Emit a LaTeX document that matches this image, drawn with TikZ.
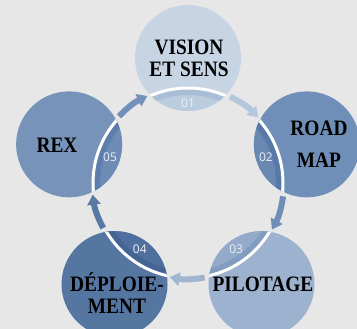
\documentclass[tikz,border=0pt]{standalone}
\usepackage{fontspec}
\setmainfont{Liberation Serif}
\newfontfamily\titlefont[FakeStretch=0.88]{Liberation Serif}
\newfontfamily\numfont{Open Sans}
\usepackage{tikz}
\usetikzlibrary{arrows.meta,positioning,calc}
\usepackage{xcolor}
\definecolor{bggray}{RGB}{231,231,231}
\definecolor{visionblue}{RGB}{199,212,228}
\definecolor{visionseg}{RGB}{188,204,223}
\definecolor{visionband}{RGB}{168,189,214}
\definecolor{roadblue}{RGB}{111,143,184}
\definecolor{roadseg}{RGB}{105,137,179}
\definecolor{roadband}{RGB}{88,121,167}
\definecolor{pilotblue}{RGB}{157,178,206}
\definecolor{pilotseg}{RGB}{147,170,202}
\definecolor{pilotband}{RGB}{130,156,192}
\definecolor{deployblue}{RGB}{86,118,162}
\definecolor{deployseg}{RGB}{79,112,158}
\definecolor{deployband}{RGB}{68,101,148}
\definecolor{rexblue}{RGB}{119,147,185}
\definecolor{rexseg}{RGB}{109,139,180}
\definecolor{rexband}{RGB}{93,126,172}
\definecolor{numwhite}{RGB}{236,241,247}
\tikzstyle{bubble} = [circle, minimum size=106pt, inner sep=0pt]
\tikzstyle{title} = [align=center, text=black, font=\titlefont\bfseries\fontsize{22pt}{22pt}\selectfont]
\tikzstyle{number} = [text=numwhite, font=\numfont\fontsize{12pt}{12pt}\selectfont]
\tikzstyle{cyclearrow} = [line width=6pt, -{Triangle[width=13pt,length=10pt]}]
\tikzset{segment/.style n args={2}{path picture={
    \fill[#1] (O) circle (95pt);
    \fill[#2, even odd rule] (O) circle (95pt) (O) circle (88pt);
    \draw[white, line width=3pt] (O) circle (95pt);}}}

\begin{document}
\begin{tikzpicture}[x=1pt, y=1pt]
    \fill[bggray] (0,0) rectangle (357,329);
    \useasboundingbox (0,0) rectangle (357,329);
    \coordinate (O) at (188,146);

    % Step circles
    \node[bubble, fill=visionblue, segment={visionseg}{visionband}] (c1) at ($(O)+(90:125)$) {};
    \node[bubble, fill=roadblue, segment={roadseg}{roadband}] (c2) at ($(O)+(18:125)$) {};
    \node[bubble, fill=pilotblue, segment={pilotseg}{pilotband}] (c3) at ($(O)+(-54:125)$) {};
    \node[bubble, fill=deployblue, segment={deployseg}{deployband}] (c4) at ($(O)+(-126:125)$) {};
    \node[bubble, fill=rexblue, segment={rexseg}{rexband}] (c5) at ($(O)+(162:125)$) {};

    % Numbers
    \node[number] (n1) at ($(O)+(90:80)$) {01};
    \node[number] (n2) at ($(O)+(18:82)$) {02};
    \node[number] (n3) at ($(O)+(-54:82)$) {03};
    \node[number] (n4) at ($(O)+(-126:82)$) {04};
    \node[number] (n5) at ($(O)+(162:82)$) {05};

    % Titles
    \node[title] (t1) at (189,271) {VISION\\ET SENS};
    \node[title] (t2) at (319,185) {ROAD\\[10pt]MAP};
    \node[title] (t3) at (263,45) {PILOTAGE};
    \node[title] (t4) at (117,36) {DÉPLOIE-\\MENT};
    \node[title] (t5) at (57,184) {REX};

    % Arrow ends
    \coordinate (s1) at ($(O)+(64:96)$);  \coordinate (e1) at ($(O)+(43:96)$);
    \coordinate (s2) at ($(O)+(-8:96)$);  \coordinate (e2) at ($(O)+(-29:96)$);
    \coordinate (s3) at ($(O)+(-80:96)$); \coordinate (e3) at ($(O)+(-101:96)$);
    \coordinate (s4) at ($(O)+(-152:96)$); \coordinate (e4) at ($(O)+(-173:96)$);
    \coordinate (s5) at ($(O)+(136:96)$); \coordinate (e5) at ($(O)+(115:96)$);

    % Arrows
    \draw[cyclearrow, color={rgb,255:red,181;green,199;blue,221}] (s1) to[bend left=10] (e1);
    \draw[cyclearrow, color={rgb,255:red,110;green,142;blue,183}] (s2) to[bend left=10] (e2);
    \draw[cyclearrow, color={rgb,255:red,160;green,181;blue,208}] (s3) to[bend left=10] (e3);
    \draw[cyclearrow, color={rgb,255:red,89;green,121;blue,165}] (s4) to[bend left=10] (e4);
    \draw[cyclearrow, color={rgb,255:red,114;green,144;blue,184}] (s5) to[bend left=10] (e5);
\end{tikzpicture}
\end{document}
